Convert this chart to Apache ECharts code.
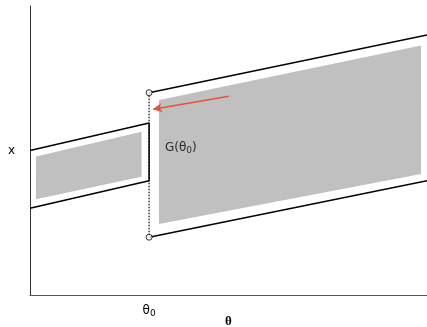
<!DOCTYPE html>
<html><head><meta charset="utf-8">
<script src="https://cdn.jsdelivr.net/npm/echarts@6/dist/echarts.min.js"></script>
<style>html,body{margin:0;padding:0;background:#fff}#c{width:427px;height:327px}</style>
</head><body><div id="c"></div>
<script>
// Data (θ on x-axis 0..10, x on y-axis 0..10)
const leftBand = [[0, 5.0], [3, 5.95], [3, 3.95], [0, 3.0]];
const rightUpper = [[3, 7.0], [10, 9.0]];
const rightLower = [[3, 2.0], [10, 3.95]];
const leftFill = [[0.15, 4.79], [2.81, 5.65], [2.81, 4.09], [0.15, 3.31]];
const rightFill = [[3.25, 6.75], [9.85, 8.63], [9.85, 4.19], [3.25, 2.46]];
const jumpLine = [[3, 7.0], [3, 2.0]];
const endpoints = [[3, 7.0], [3, 2.0]];
const arrowFrom = [5.01, 6.88];
const arrowTo = [3.1, 6.43];
const labelPoint = [3.4, 5.09];
const xTickValue = 3;
const xTickLabel = 'θ{s|0}';

const chart = echarts.init(document.getElementById('c'));
function polySeries(pts) {
  return {
    type: 'custom',
    data: [0],
    silent: true,
    z: 1,
    renderItem: function (params, api) {
      return {
        type: 'polygon',
        shape: { points: pts.map(p => api.coord(p)) },
        style: { fill: '#c0c0c0' }
      };
    }
  };
}
const blackLine = (d) => ({
  type: 'line', data: d, symbol: 'none', z: 3,
  lineStyle: { color: '#000', width: 1.5 }, silent: true
});
chart.setOption({
  animation: false,
  grid: { left: 30, right: 0, top: 6, bottom: 32, outerBoundsMode: 'none', containLabel: false },
  xAxis: {
    type: 'value', min: 0, max: 10, interval: 1,
    axisLine: { show: true, lineStyle: { color: '#555', width: 1 } },
    axisTick: { show: false }, splitLine: { show: false },
    axisLabel: {
      show: true, margin: 8, color: '#000', fontSize: 12, fontFamily: 'DejaVu Sans',
      formatter: v => v === xTickValue ? xTickLabel : '',
      rich: { s: { fontSize: 9, padding: [6, 0, 0, 0], fontFamily: 'DejaVu Sans', color: '#000' } }
    },
    name: 'θ', nameLocation: 'middle', nameGap: 20, nameMoveOverlap: false,
    nameTextStyle: { color: '#000', fontSize: 13, fontWeight: 'bold', fontFamily: 'Liberation Serif' }
  },
  yAxis: {
    type: 'value', min: 0, max: 10,
    axisLine: { show: true, lineStyle: { color: '#333', width: 1 } },
    axisTick: { show: false }, splitLine: { show: false }, axisLabel: { show: false },
    name: 'x', nameLocation: 'middle', nameGap: 15, nameRotate: 0, nameMoveOverlap: false,
    nameTextStyle: { color: '#000', fontSize: 12, fontFamily: 'DejaVu Sans' }
  },
  series: [
    polySeries(leftFill),
    polySeries(rightFill),
    blackLine(leftBand),
    blackLine(rightUpper),
    blackLine(rightLower),
    {
      type: 'line', data: jumpLine, symbol: 'none', z: 4, silent: true,
      lineStyle: { color: '#000', width: 1.2, type: [1.5, 1.5] },
      markLine: {
        silent: true, symbol: ['none', 'arrow'], symbolSize: [7, 9],
        label: { show: false },
        lineStyle: { color: '#e8513a', width: 1.5, type: 'solid' },
        data: [[{ coord: arrowFrom }, { coord: arrowTo }]]
      }
    },
    {
      type: 'scatter', data: endpoints, symbol: 'circle', symbolSize: 6, z: 6, silent: true,
      itemStyle: { color: '#fff', borderColor: '#000', borderWidth: 1 }
    },
    {
      type: 'scatter', data: [labelPoint], symbolSize: 0, z: 7, silent: true,
      label: {
        show: true, position: 'right', distance: 0, color: '#000', fontSize: 12,
        fontFamily: 'DejaVu Sans',
        formatter: 'G(θ{s|0})',
        rich: { s: { fontSize: 9, padding: [6, 0, 0, 0], fontFamily: 'DejaVu Sans', color: '#000' } }
      }
    }
  ]
});
</script></body></html>
